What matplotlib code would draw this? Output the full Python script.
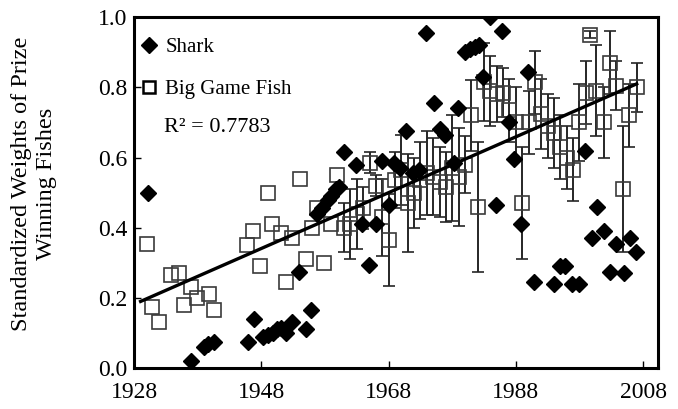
import matplotlib
matplotlib.use("Agg")
import matplotlib.pyplot as plt
from matplotlib.lines import Line2D

# ---- data ----------------------------------------------------------------
SHARK_YEAR = [1930.2, 1937.0, 1938.9, 1939.6, 1940.6, 1945.9, 1946.8, 1948.2,
              1949.0, 1949.8, 1950.5, 1951.1, 1951.9, 1952.8, 1953.9, 1955.0,
              1955.8, 1956.8, 1957.6, 1958.4, 1959.0, 1959.7, 1960.2, 1961.0,
              1962.9, 1963.8, 1964.9, 1966.0, 1966.9, 1968.0, 1968.9, 1969.8,
              1970.7, 1971.9, 1972.7, 1973.9, 1975.2, 1976.1, 1976.9, 1978.2,
              1978.9, 1980.0, 1980.8, 1981.6, 1982.2, 1982.8, 1983.9, 1984.9,
              1985.8, 1987.0, 1987.7, 1988.8, 1989.9, 1990.9, 1994.0, 1994.9,
              1995.8, 1996.9, 1998.0, 1998.9, 1999.9, 2000.8, 2001.9, 2002.8,
              2003.8, 2005.0, 2006.0, 2006.9]
SHARK_VAL = [0.50, 0.02, 0.06, 0.07, 0.075, 0.075, 0.14, 0.09,
             0.095, 0.10, 0.11, 0.115, 0.10, 0.13, 0.275, 0.11,
             0.165, 0.44, 0.455, 0.48, 0.49, 0.51, 0.515, 0.615,
             0.58, 0.41, 0.295, 0.41, 0.59, 0.465, 0.585, 0.57,
             0.675, 0.555, 0.565, 0.955, 0.755, 0.68, 0.665, 0.585,
             0.74, 0.90, 0.91, 0.915, 0.92, 0.83, 1.00, 0.465,
             0.96, 0.70, 0.595, 0.41, 0.845, 0.245, 0.24, 0.29,
             0.29, 0.24, 0.24, 0.62, 0.37, 0.46, 0.39, 0.275,
             0.355, 0.27, 0.37, 0.33]

# big game fish, early years (no error bars)
BGF_YEAR_EARLY = [1930.0, 1930.8, 1931.9, 1933.8, 1935.0, 1935.8, 1936.9, 1937.8,
                  1939.7, 1940.5, 1945.8, 1946.6, 1947.8, 1949.0, 1949.7, 1951.0,
                  1951.9, 1952.8, 1954.0, 1955.0, 1956.0, 1956.8, 1957.8, 1959.0,
                  1959.9]
BGF_VAL_EARLY = [0.355, 0.175, 0.13, 0.265, 0.27, 0.18, 0.23, 0.20,
                 0.21, 0.165, 0.35, 0.39, 0.29, 0.50, 0.41, 0.385,
                 0.245, 0.37, 0.54, 0.31, 0.40, 0.455, 0.30, 0.41,
                 0.55]

# big game fish, later years (mean +/- error)
BGF_YEAR = [1961, 1962, 1963, 1964, 1965, 1966, 1967, 1968, 1969, 1970,
            1971, 1972, 1973, 1974, 1975, 1976, 1977, 1978, 1979, 1980,
            1981, 1982, 1983, 1984, 1985, 1986, 1987, 1988, 1989, 1990,
            1991, 1992, 1993, 1994, 1995, 1996, 1997, 1998, 1999, 1999.6,
            2000.6, 2001.8, 2002.8, 2003.8, 2004.8, 2005.8, 2007.0]
BGF_VAL = [0.40, 0.41, 0.44, 0.455, 0.585, 0.52, 0.43, 0.365, 0.535, 0.565,
           0.47, 0.50, 0.535, 0.555, 0.545, 0.53, 0.515, 0.57, 0.545, 0.58,
           0.72, 0.46, 0.815, 0.79, 0.78, 0.785, 0.735, 0.70, 0.47, 0.70,
           0.815, 0.725, 0.69, 0.67, 0.63, 0.60, 0.565, 0.70, 0.785, 0.95,
           0.79, 0.70, 0.87, 0.805, 0.51, 0.72, 0.80]
BGF_ERR = [0.07, 0.10, 0.10, 0.06, 0.03, 0.03, 0.11, 0.13, 0.08, 0.10,
           0.14, 0.10, 0.11, 0.12, 0.11, 0.10, 0.10, 0.15, 0.14, 0.08,
           0.10, 0.185, 0.11, 0.10, 0.08, 0.07, 0.09, 0.10, 0.16, 0.09,
           0.09, 0.10, 0.09, 0.10, 0.09, 0.09, 0.09, 0.11, 0.09, 0.01,
           0.13, 0.10, 0.09, 0.07, 0.18, 0.09, 0.07]

TREND_YEAR = [1929, 2007]
TREND_VAL = [0.19, 0.81]
R2_TEXT = "R² = 0.7783"

XTICKS = [1928, 1948, 1968, 1988, 2008]
YTICKS = [0.0, 0.2, 0.4, 0.6, 0.8, 1.0]

plt.rcParams.update({
    "font.family": ["Liberation Serif", "DejaVu Serif"],
    "font.size": 16,
})

fig = plt.figure(figsize=(6.78, 4.09), dpi=100)
ax = fig.add_axes([0.198, 0.100, 0.772, 0.858])

EDGE = "#3a3a3a"
ax.errorbar(BGF_YEAR, BGF_VAL, yerr=BGF_ERR, fmt="s", ms=9.5, mfc="none",
            mec=EDGE, mew=1.2, ecolor="#262626", elinewidth=1.4, capsize=4,
            capthick=1.4, zorder=2)
ax.plot(BGF_YEAR_EARLY, BGF_VAL_EARLY, "s", ms=9.5, mfc="none", mec=EDGE,
        mew=1.2, zorder=2)
ax.plot(SHARK_YEAR, SHARK_VAL, "D", ms=8, color="black", zorder=3)
ax.plot(TREND_YEAR, TREND_VAL, color="black", lw=2.4, zorder=4)

ax.set_xlim(1928, 2010.3)
ax.set_ylim(0, 1.0)
ax.set_xticks(XTICKS)
ax.set_yticks(YTICKS)
ax.set_yticklabels([f"{v:.1f}" for v in YTICKS])
ax.tick_params(direction="in", length=5, width=1.0, labelsize=17)
ax.tick_params(axis="x", pad=10)
ax.tick_params(axis="y", pad=5)
for s in ax.spines.values():
    s.set_linewidth(2.2)

ax.set_ylabel("Standardized Weights of Prize\nWinning Fishes", fontsize=17.5,
              linespacing=1.25)
ax.yaxis.set_label_coords(-0.148, 0.525)

hs = [Line2D([], [], marker="D", ls="None", color="black", ms=8, label="Shark"),
      Line2D([], [], marker="s", ls="None", mfc="none", mec="black", mew=1.8,
             ms=8, label="Big Game Fish")]
ax.legend(handles=hs, loc="upper left", frameon=False, fontsize=15,
          handlelength=0.6, handletextpad=0.5, labelspacing=1.05,
          borderaxespad=0.2, borderpad=0.2, bbox_to_anchor=(0.0, 0.965))
ax.text(0.056, 0.685, R2_TEXT, transform=ax.transAxes, fontsize=16,
        ha="left", va="center")

fig.savefig("out.png", dpi=100)
